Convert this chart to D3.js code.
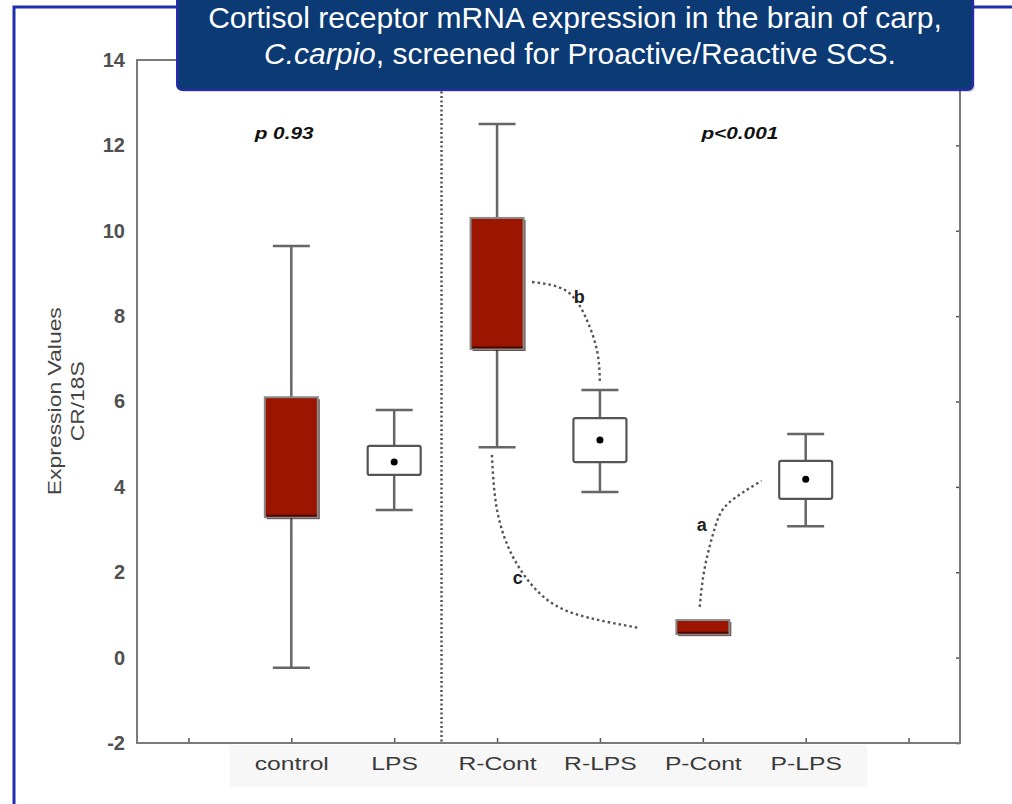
<!DOCTYPE html>
<html>
<head>
<meta charset="utf-8">
<script src="https://cdn.jsdelivr.net/npm/d3@7.9.0/dist/d3.min.js"></script>
<style>
  body { margin: 0; background: #fff; }
  svg { display: block; font-family: "Liberation Sans", Arial, sans-serif; }
</style>
</head>
<body>
<svg id="chart" width="1012" height="804"></svg>
<script>
// ===== DATA =====
const groups = ["control", "LPS", "R-Cont", "R-LPS", "P-Cont", "P-LPS"];
const whiskerHigh = [9.64, 5.80, 12.50, 6.27, 0.88, 5.24];
const boxHigh     = [6.10, 4.96, 10.30, 5.61, 0.88, 4.61];
const boxLow      = [3.29, 4.28, 7.23, 4.58, 0.55, 3.72];
const whiskerLow  = [-0.24, 3.46, 4.93, 3.88, 0.55, 3.08];
const means       = [null, 4.58, null, 5.10, null, 4.18];
const filled      = [true, false, true, false, true, false];
const yTicks = [-2, 0, 2, 4, 6, 8, 10, 12, 14];

// group index (0 = control) and value for the dotted links
const linkB = [[2.34, 8.80], [2.66, 8.61], [2.85, 8.03], [2.97, 7.21], [3.0, 6.43]];
const linkC = [[1.95, 4.75], [2.0, 3.46], [2.17, 2.29], [2.49, 1.35], [2.90, 0.93], [3.39, 0.69]];
const linkA = [[3.97, 1.19], [4.02, 2.12], [4.12, 3.06], [4.25, 3.62], [4.57, 4.14]];
const linkLabels = [
  { text: "b", i: 2.80, v: 8.45 },
  { text: "c", i: 2.20, v: 1.87 },
  { text: "a", i: 3.99, v: 3.11 }
];
const pValues = [
  { text: "p 0.93", i: -0.07, v: 12.15 },
  { text: "p<0.001", i: 4.36, v: 12.15 }
];
const dividerAt = 1.46;

const svg = d3.select("#chart");
const plot = { left: 137, right: 960, top: 60, bottom: 743 };
const stretch = 1.3;

// outer slide frame
svg.append("path")
  .attr("d", `M14,804V7H1012`)
  .attr("fill", "none")
  .attr("stroke", "#1f2fae")
  .attr("stroke-width", 3);

const x = d3.scalePoint().domain(groups).range([plot.left, plot.right]).padding(1.5);
const step = x.step();
const xi = d3.scaleLinear().domain([0, 1]).range([x(groups[0]), x(groups[0]) + step]);
const y = d3.scaleLinear().domain([-2, 14]).range([plot.bottom, plot.top]);

// light band behind category labels
svg.append("rect")
  .attr("x", xi(-0.6)).attr("width", xi(groups.length - 0.4) - xi(-0.6))
  .attr("y", plot.bottom + 2).attr("height", 42)
  .attr("fill", "#f7f7f7");

// ===== AXES =====
const frameColor = "#7a7a7a";

// inward ticks on bottom
svg.append("g")
  .attr("transform", `translate(0,${plot.bottom})`)
  .call(d3.axisTop(xi).tickValues(d3.range(-1, groups.length + 1)).tickSize(5).tickFormat(""))
  .call(g => g.select(".domain").remove())
  .call(g => g.selectAll("line").attr("stroke", "#555").attr("stroke-width", 1.5));

// inward ticks on right
svg.append("g")
  .attr("transform", `translate(${plot.right},0)`)
  .call(d3.axisLeft(y).tickValues(yTicks).tickSize(4).tickFormat(""))
  .call(g => g.select(".domain").remove())
  .call(g => g.selectAll("line").attr("stroke", "#555").attr("stroke-width", 1.5));

// y labels
svg.append("g")
  .attr("transform", `translate(${plot.left},0)`)
  .call(d3.axisLeft(y).tickValues(yTicks).tickSize(0).tickPadding(12).tickFormat(d => String(d)))
  .call(g => g.select(".domain").remove())
  .call(g => g.selectAll("text")
    .attr("font-size", "20px")
    .attr("font-weight", "bold")
    .attr("font-family", "'Liberation Sans Narrow', 'Liberation Sans', Arial, sans-serif")
    .attr("fill", "#505050"));

// x labels
svg.append("g")
  .attr("transform", `translate(0,${plot.bottom})`)
  .call(d3.axisBottom(x).tickSize(0).tickPadding(14))
  .call(g => g.select(".domain").remove())
  .call(g => g.selectAll("text")
    .attr("font-size", "19px")
    .attr("font-family", "'Liberation Sans', Arial, sans-serif")
    .attr("fill", "#3a3a3a")
    .attr("transform", `scale(${stretch},1)`));

// plot frame
svg.append("rect")
  .attr("x", plot.left).attr("y", plot.top)
  .attr("width", plot.right - plot.left).attr("height", plot.bottom - plot.top)
  .attr("fill", "none")
  .attr("stroke", frameColor)
  .attr("stroke-width", 2);

// y axis title
const yTitle = svg.append("g")
  .attr("transform", `translate(0,${(y(4) + y(6)) / 2 - 43}) rotate(-90)`)
  .attr("fill", "#444")
  .attr("font-size", "18px")
  .attr("text-anchor", "middle");
yTitle.append("text").attr("x", 0).attr("y", 61)
  .attr("textLength", 188).attr("lengthAdjust", "spacingAndGlyphs")
  .text("Expression Values");
yTitle.append("text").attr("x", 0).attr("y", 84)
  .attr("textLength", 80).attr("lengthAdjust", "spacingAndGlyphs")
  .text("CR/18S");

// divider
svg.append("line")
  .attr("x1", xi(dividerAt)).attr("x2", xi(dividerAt))
  .attr("y1", plot.top).attr("y2", plot.bottom)
  .attr("stroke", "#555")
  .attr("stroke-width", 2.5)
  .attr("stroke-dasharray", "2 2.5");

// ===== BOXES =====
const boxW = 53;
const capW = 37;
const whiskerColor = "#666";

const boxes = svg.append("g").selectAll("g")
  .data(groups)
  .join("g")
  .attr("transform", d => `translate(${x(d)},0)`);

boxes.filter((d, i) => whiskerHigh[i] !== boxHigh[i] || whiskerLow[i] !== boxLow[i])
  .each(function(d) {
    const i = groups.indexOf(d);
    const g = d3.select(this);
    g.append("line")
      .attr("y1", y(whiskerHigh[i])).attr("y2", y(whiskerLow[i]))
      .attr("stroke", whiskerColor).attr("stroke-width", 2.5);
    [whiskerHigh[i], whiskerLow[i]].forEach(v => {
      g.append("line")
        .attr("x1", -capW / 2).attr("x2", capW / 2)
        .attr("y1", y(v)).attr("y2", y(v))
        .attr("stroke", whiskerColor).attr("stroke-width", 2.5);
    });
  });

boxes.each(function(d) {
  const i = groups.indexOf(d);
  const g = d3.select(this);
  if (filled[i]) {
    g.append("rect")
      .attr("x", -boxW / 2 + 2).attr("y", y(boxHigh[i]) + 2)
      .attr("width", boxW).attr("height", y(boxLow[i]) - y(boxHigh[i]))
      .attr("fill", "#2a0a05").attr("opacity", 0.7);
    g.append("rect")
      .attr("x", -boxW / 2).attr("y", y(boxHigh[i]))
      .attr("width", boxW).attr("height", y(boxLow[i]) - y(boxHigh[i]))
      .attr("fill", "#9b1500")
      .attr("stroke", "#8a8a8a").attr("stroke-width", 2);
    g.append("line")
      .attr("x1", -boxW / 2 + 1.5).attr("x2", boxW / 2 - 1)
      .attr("y1", y(boxLow[i]) - 1.5).attr("y2", y(boxLow[i]) - 1.5)
      .attr("stroke", "#4a0800").attr("stroke-width", 2);
  } else {
    g.append("rect")
      .attr("x", -boxW / 2).attr("y", y(boxHigh[i]))
      .attr("width", boxW).attr("height", y(boxLow[i]) - y(boxHigh[i]))
      .attr("rx", 2)
      .attr("fill", "#fff")
      .attr("stroke", "#555").attr("stroke-width", 2.2);
  }
  if (means[i] !== null) {
    g.append("circle")
      .attr("cy", y(means[i])).attr("r", 3.5)
      .attr("fill", "#000");
  }
});

// ===== LINKS =====
const link = d3.line()
  .x(d => xi(d[0]))
  .y(d => y(d[1]))
  .curve(d3.curveNatural);

[linkB, linkC, linkA].forEach(pts => {
  svg.append("path")
    .attr("d", link(pts))
    .attr("fill", "none")
    .attr("stroke", "#555")
    .attr("stroke-width", 2.4)
    .attr("stroke-dasharray", "2.5 3");
});

svg.append("g").selectAll("text")
  .data(linkLabels)
  .join("text")
  .attr("x", d => xi(d.i))
  .attr("y", d => y(d.v))
  .attr("dy", "0.35em")
  .attr("text-anchor", "middle")
  .attr("font-size", "18px")
  .attr("font-weight", "bold")
  .attr("fill", "#222")
  .text(d => d.text);

svg.append("g").selectAll("text")
  .data(pValues)
  .join("text")
  .attr("transform", d => `translate(${xi(d.i)},${y(d.v)}) scale(${stretch},1)`)
  .attr("text-anchor", "middle")
  .attr("font-size", "16px")
  .attr("font-weight", "bold")
  .attr("font-style", "italic")
  .attr("fill", "#111")
  .text(d => d.text);

// ===== TITLE BOX =====
svg.append("rect")
  .attr("x", 179).attr("y", -12)
  .attr("width", 796).attr("height", 104)
  .attr("rx", 5)
  .attr("fill", "#000").attr("opacity", 0.15);
svg.append("rect")
  .attr("x", 177).attr("y", -12)
  .attr("width", 796).attr("height", 102)
  .attr("rx", 5)
  .attr("fill", "#0b3a74")
  .attr("stroke", "#2a2ab0")
  .attr("stroke-width", 2);

const title = svg.append("text")
  .attr("text-anchor", "middle")
  .attr("fill", "#fff")
  .attr("font-size", "30px");
title.append("tspan").attr("x", 575).attr("y", 28)
  .text("Cortisol receptor mRNA expression in the brain of carp,");
const line2 = title.append("tspan").attr("x", 580).attr("y", 64);
line2.append("tspan").attr("font-style", "italic").text("C.carpio");
line2.append("tspan").text(", screened for Proactive/Reactive SCS.");
</script>
</body>
</html>
